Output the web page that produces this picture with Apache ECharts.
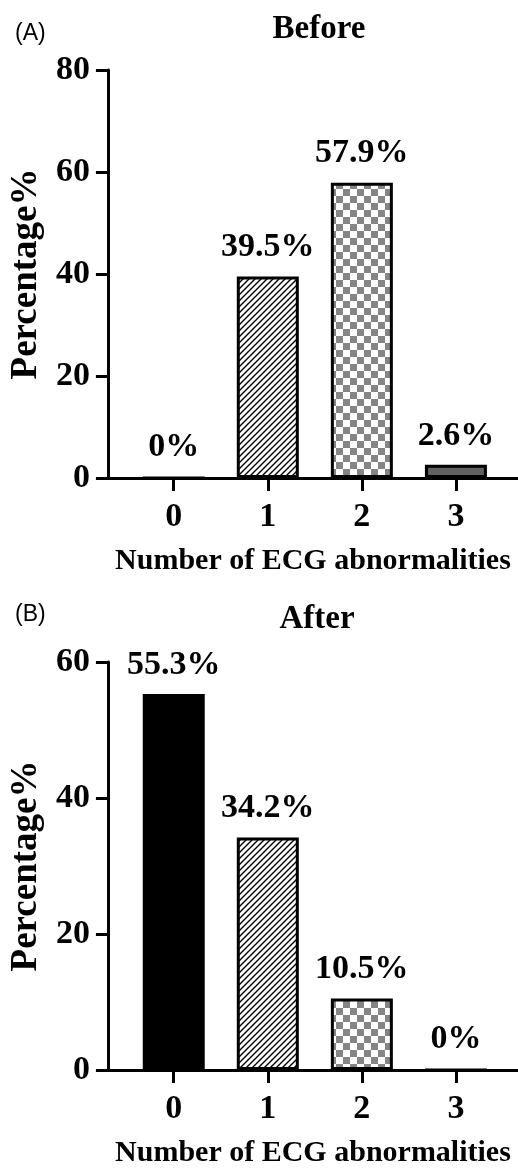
<!DOCTYPE html>
<html>
<head>
<meta charset="utf-8">
<script src="https://cdn.jsdelivr.net/npm/echarts@6/dist/echarts.min.js"></script>
<style>
html,body{margin:0;padding:0;background:#fff;}
#c{width:518px;height:1169px;}
</style>
</head>
<body>
<div id="c"></div>
<script>
// ---- data ----
const categories = [0, 1, 2, 3];
const beforeValues = [0, 39.5, 57.9, 2.6];
const afterValues = [55.3, 34.2, 10.5, 0];
const yTicksBefore = [0, 20, 40, 60, 80];
const yTicksAfter = [0, 20, 40, 60];
const panelTitles = ['Before', 'After'];
const panelLetters = ['(A)', '(B)'];
const xTitle = 'Number of ECG abnormalities';
const yTitle = 'Percentage%';

// ---- fill patterns ----
function hatchPattern() {
  const s = 6, c = document.createElement('canvas');
  c.width = s; c.height = s;
  const g = c.getContext('2d');
  g.fillStyle = '#fff'; g.fillRect(0, 0, s, s);
  g.strokeStyle = '#000'; g.lineWidth = 1.4;
  g.beginPath();
  g.moveTo(-1, s + 1); g.lineTo(s + 1, -1);
  g.moveTo(-1, 1); g.lineTo(1, -1);
  g.moveTo(s - 1, s + 1); g.lineTo(s + 1, s - 1);
  g.stroke();
  return c;
}
function checkerPattern() {
  const s = 7, c = document.createElement('canvas');
  c.width = 2 * s; c.height = 2 * s;
  const g = c.getContext('2d');
  g.fillStyle = '#fff'; g.fillRect(0, 0, 2 * s, 2 * s);
  g.fillStyle = '#858585';
  g.fillRect(0, 0, s, s); g.fillRect(s, s, s, s);
  return c;
}
const fills = [
  '#000000',
  { image: hatchPattern(), repeat: 'repeat' },
  { image: checkerPattern(), repeat: 'repeat' },
  '#606060'
];

const serif = 'Liberation Serif';
const grids = [
  { left: 107, right: 0, top: 70, height: 408 },
  { left: 107, right: 0, top: 662, height: 410 }
];
const yTicks = [yTicksBefore, yTicksAfter];

function xAxis(i) {
  return {
    gridIndex: i, type: 'value', min: -0.7, max: 3.66,
    name: xTitle, nameLocation: 'middle', nameGap: 68,
    nameTextStyle: { fontFamily: serif, fontWeight: 'bold', fontSize: 30, color: '#000' },
    axisLine: { show: true, onZero: false, lineStyle: { color: '#000', width: 3 } },
    axisTick: { show: true, length: 13, lineStyle: { color: '#000', width: 3 }, customValues: categories },
    axisLabel: { customValues: categories, margin: 22, fontFamily: serif, fontWeight: 'bold', fontSize: 34, color: '#000' },
    splitLine: { show: false }
  };
}
function yAxis(i) {
  const t = yTicks[i];
  return {
    gridIndex: i, type: 'value', min: t[0], max: t[t.length - 1], interval: t[1] - t[0],
    name: yTitle, nameLocation: 'middle', nameGap: 60, nameRotate: 90,
    nameTextStyle: { fontFamily: serif, fontWeight: 'bold', fontSize: 37, color: '#000' },
    axisLine: { show: true, onZero: false, lineStyle: { color: '#000', width: 3 } },
    axisTick: { show: true, length: 12, lineStyle: { color: '#000', width: 3 } },
    axisLabel: { margin: 18, fontFamily: serif, fontWeight: 'bold', fontSize: 34, color: '#000' },
    splitLine: { show: false }
  };
}
function series(i, vals) {
  return {
    type: 'bar', xAxisIndex: i, yAxisIndex: i, barWidth: 62,
    data: categories.map((c, k) => ({ value: [c, vals[k]], itemStyle: { color: fills[k] } })),
    itemStyle: { borderColor: '#000', borderWidth: 3 },
    label: {
      show: true, position: 'top', distance: 12,
      fontFamily: serif, fontWeight: 'bold', fontSize: 34, color: '#000',
      formatter: p => p.value[1] + '%'
    },
    animation: false
  };
}

const chart = echarts.init(document.getElementById('c'), null, { renderer: 'canvas' });
chart.setOption({
  backgroundColor: '#fff',
  animation: false,
  title: [
    { text: panelLetters[0], left: 10, top: 17, textStyle: { fontFamily: 'Liberation Sans', fontWeight: 'normal', fontSize: 23, color: '#000' } },
    { text: panelTitles[0], left: 314, top: 8, textAlign: 'center', textStyle: { fontFamily: serif, fontWeight: 'bold', fontSize: 33, color: '#000' } },
    { text: panelLetters[1], left: 10, top: 598, textStyle: { fontFamily: 'Liberation Sans', fontWeight: 'normal', fontSize: 23, color: '#000' } },
    { text: panelTitles[1], left: 312, top: 598, textAlign: 'center', textStyle: { fontFamily: serif, fontWeight: 'bold', fontSize: 33, color: '#000' } }
  ],
  grid: grids,
  xAxis: [xAxis(0), xAxis(1)],
  yAxis: [yAxis(0), yAxis(1)],
  series: [series(0, beforeValues), series(1, afterValues)]
});
</script>
</body>
</html>
